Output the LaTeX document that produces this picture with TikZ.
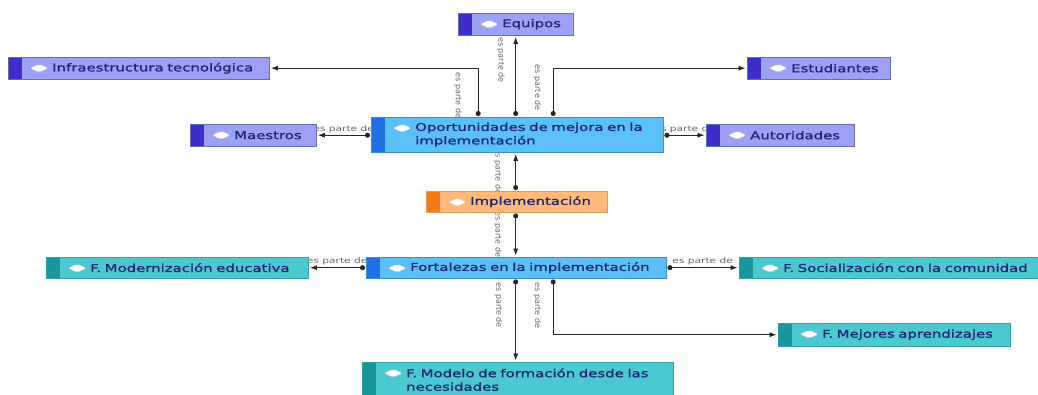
\documentclass[tikz,border=0pt]{standalone}
\usepackage{fontspec}
\usetikzlibrary{positioning}
\usetikzlibrary{arrows.meta}
\usetikzlibrary{backgrounds}
\newfontfamily\codefont[FakeStretch=1.38,FakeBold=1.2]{DejaVu Sans}
\newfontfamily\relfont[FakeStretch=1.38]{DejaVu Sans}
\newfontfamily\vrelfont{DejaVu Sans}
\definecolor{codetext}{HTML}{1C2775}
\definecolor{pfill}{HTML}{9DA1F5}
\definecolor{pstrip}{HTML}{3B2ECC}
\definecolor{pline}{HTML}{6A6AB8}
\definecolor{bfill}{HTML}{5BC0F8}
\definecolor{bstrip}{HTML}{1E6FE8}
\definecolor{bline}{HTML}{3A8FD0}
\definecolor{ofill}{HTML}{FDB97A}
\definecolor{ostrip}{HTML}{F27B16}
\definecolor{oline}{HTML}{E59A50}
\definecolor{tfill}{HTML}{4CC9D0}
\definecolor{tstrip}{HTML}{17979B}
\definecolor{tline}{HTML}{2FA3A8}

\begin{document}
\begin{tikzpicture}[x=1pt,y=-1pt,
  code/.style={rectangle, anchor=north west, inner xsep=4pt, inner ysep=2pt,
    align=left, text=codetext, font=\codefont\fontsize{10.8}{13.5}\selectfont},
  codebox/.style n args={3}{code, draw=#1, fill=#2, path picture={
    \fill[#3] (path picture bounding box.north west) rectangle ([xshift=14pt]path picture bounding box.south west);
    \filldraw[fill=white, draw=black!15, rounded corners=2pt] ([xshift=22pt,yshift=-11pt]path picture bounding box.north west)
      -- ++(9pt,4pt) -- ++(9pt,-4pt) -- ++(-9pt,-4pt) -- cycle;}},
  pcode/.style={codebox={pline}{pfill}{pstrip}},
  bcode/.style={codebox={bline}{bfill}{bstrip}},
  ocode/.style={codebox={oline}{ofill}{ostrip}},
  tcode/.style={codebox={tline}{tfill}{tstrip}},
  rel/.style={draw=black!85, line width=0.8pt, {Circle[length=5pt]}-{Latex[length=7pt,width=5pt]},
    shorten <=1pt, shorten >=1.5pt},
  lbl/.style={text=black!60, font=\relfont\fontsize{7.7}{8}\selectfont, inner sep=1pt},
  vlbl/.style={text=black!60, font=\vrelfont\fontsize{8}{8}\selectfont, inner sep=1pt}]
 \useasboundingbox (0,0) rectangle (1038,394);

 % codes
 \node[pcode, minimum height=22pt, text width=107pt] (equ) at (458,13) {\hspace*{40pt}Equipos};
 \node[pcode, minimum height=22pt, text width=253pt] (inf) at (8,57) {\hspace*{40pt}Infraestructura tecnológica};
 \node[pcode, minimum height=22pt, text width=135pt] (est) at (747,57) {\hspace*{40pt}Estudiantes};
 \node[pcode, minimum height=22pt, text width=118pt] (mae) at (190,124) {\hspace*{40pt}Maestros};
 \node[bcode, minimum height=35pt, text width=284pt] (opo) at (371,117) {\hspace*{40pt}Oportunidades de mejora en la\\\hspace*{40pt}implementación};
 \node[pcode, minimum height=22pt, text width=140pt] (aut) at (706,124) {\hspace*{40pt}Autoridades};
 \node[ocode, minimum height=21pt, text width=173pt] (imp) at (426,191) {\hspace*{40pt}Implementación};
 \node[bcode, minimum height=21pt, text width=292pt] (fort) at (366,257) {\hspace*{40pt}Fortalezas en la implementación};
 \node[tcode, minimum height=21pt, text width=254pt] (mod) at (46,257) {\hspace*{40pt}F. Modernización educativa};
 \node[tcode, minimum height=21pt, text width=300pt] (soc) at (739,257) {\hspace*{40pt}F. Socialización con la comunidad};
 \node[tcode, minimum height=23pt, text width=224pt] (mej) at (778,323) {\hspace*{40pt}F. Mejores aprendizajes};
 \node[tcode, minimum height=35pt, text width=303pt] (modl) at (362,362) {\hspace*{40pt}F. Modelo de formación desde las\\\hspace*{40pt}necesidades};

 % relations
 \begin{scope}[on background layer]
 \draw[rel] (equ.south |- opo.north) -- (equ.south)
   node[vlbl, pos=0.7, xshift=-15pt, rotate=-90] {es parte de};
 \draw[rel] ([xshift=-39pt]opo.north) |- (inf.east)
   node[vlbl, pos=0.22, xshift=-20pt, rotate=-90] {es parte de};
 \draw[rel] ([xshift=36pt]opo.north) |- (est.west)
   node[vlbl, pos=0.3, xshift=-16pt, rotate=-90] {es parte de};
 \draw[rel] (opo.west |- mae.east) -- (mae.east)
   node[lbl, midway, above=1pt] {es parte de};
 \draw[rel] (opo.east |- aut.west) -- (aut.west)
   node[lbl, midway, above=1pt] {es parte de};
 \draw[rel] (imp.north -| equ.south) -- (opo.south -| equ.south)
   node[vlbl, midway, xshift=-18pt, rotate=-90] {es parte de};
 \draw[rel] (imp.south -| equ.south) -- (fort.north -| equ.south)
   node[vlbl, midway, xshift=-18pt, rotate=-90] {es parte de};
 \draw[rel] (fort.west) -- (mod.east)
   node[lbl, midway, above=1pt] {es parte de};
 \draw[rel] (fort.east) -- (soc.west)
   node[lbl, midway, above=1pt] {es parte de};
 \draw[rel] (fort.south -| equ.south) -- (modl.north -| equ.south)
   node[vlbl, pos=0.32, xshift=-17pt, rotate=-90] {es parte de};
 \draw[rel] ([xshift=37pt]fort.south) |- (mej.west)
   node[vlbl, pos=0.24, xshift=-16pt, rotate=-90] {es parte de};
 \end{scope}
\end{tikzpicture}
\end{document}
